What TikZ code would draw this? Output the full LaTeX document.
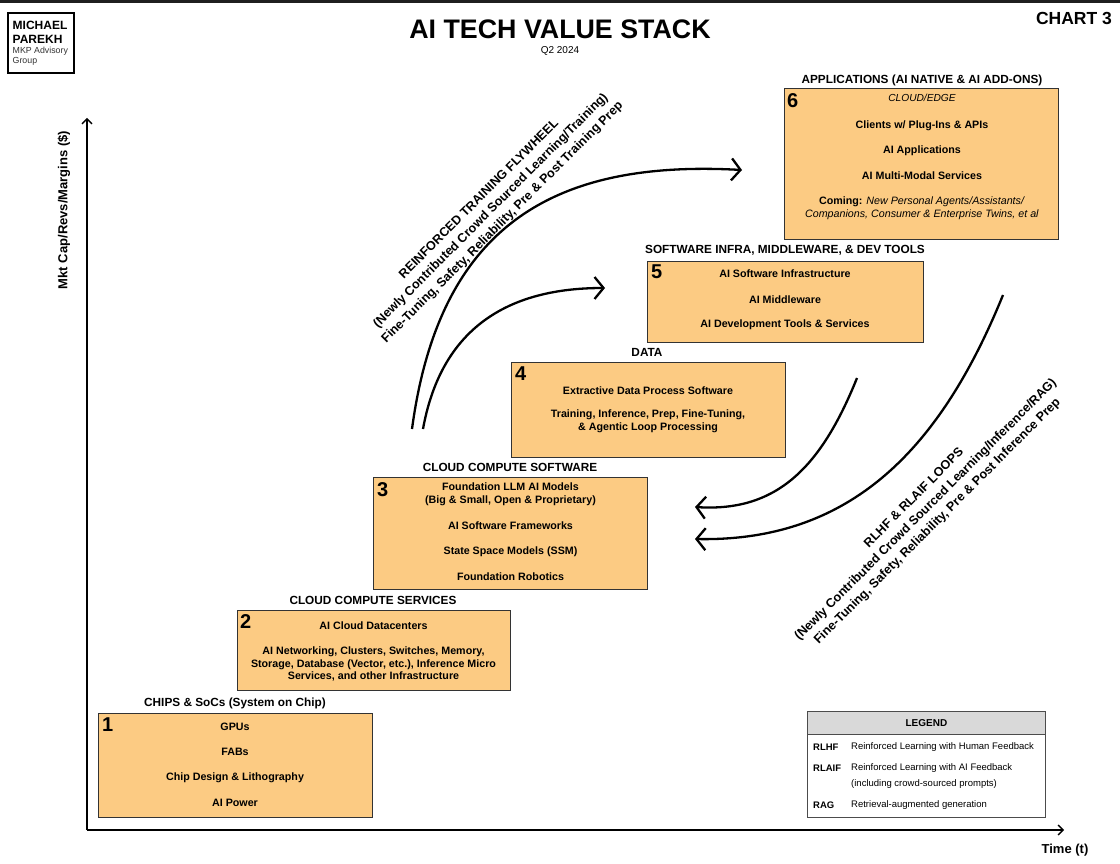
\documentclass[tikz,border=0pt]{standalone}
\usepackage{fontspec}
\setmainfont{Liberation Sans}
\usetikzlibrary{arrows.meta}
\definecolor{boxfill}{HTML}{FCCB83}
\definecolor{legendhead}{HTML}{D9D9D9}
\begin{document}
\begin{tikzpicture}[x=1pt,y=-1pt,
  stackbox/.style={draw=black!80, line width=1pt, fill=boxfill, inner sep=0pt, anchor=north west},
  boxtitle/.style={font=\fontsize{11.8}{13}\selectfont\bfseries, inner sep=0pt},
  item/.style={font=\fontsize{10.7}{12.8}\selectfont\bfseries, align=center, inner sep=0pt},
  num/.style={font=\fontsize{20}{20}\selectfont\bfseries, anchor=north west, inner sep=0pt},
  flow/.style={line width=2.3pt, -{Straight Barb[length=9pt,width=22pt,line width=2.3pt]}},
  axis/.style={line width=1.5pt, -{Straight Barb[length=5pt,width=10pt,line width=1.3pt]}},
  rotlabel/.style={font=\fontsize{12.6}{16.5}\selectfont\bfseries, align=center, rotate=45, inner sep=0pt},
  legtext/.style={font=\fontsize{9.5}{11}\selectfont, anchor=west, inner sep=0pt},
  legabbr/.style={font=\fontsize{9.5}{11}\selectfont\bfseries, anchor=west, inner sep=0pt}
]
\useasboundingbox (0,0) rectangle (1120,864);
\fill[white] (0,0) rectangle (1120,864);
\fill[black!88] (0,0) rectangle (1120,3);

% logo
\node[draw=black, line width=1.6pt, minimum width=66pt, minimum height=60pt, anchor=north west, inner sep=0pt] (logo) at (7,12) {};
\node[font=\fontsize{12}{12}\selectfont\bfseries, anchor=west, inner sep=0pt] (logo1) at (12.5,25.5) {MICHAEL};
\node[font=\fontsize{12}{12}\selectfont\bfseries, anchor=west, inner sep=0pt] (logo2) at (12.5,39) {PAREKH};
\node[font=\fontsize{8.8}{9}\selectfont, text=black!80, anchor=west, inner sep=0pt] (logo3) at (12.5,51.5) {MKP Advisory};
\node[font=\fontsize{8.8}{9}\selectfont, text=black!80, anchor=west, inner sep=0pt] (logo4) at (12.5,61) {Group};

% title
\node[font=\fontsize{26.8}{27}\selectfont\bfseries, inner sep=0pt] (title) at (560,29.5) {AI TECH VALUE STACK};
\node[font=\fontsize{10}{10}\selectfont, inner sep=0pt] (sub) at (560,51) {Q2 2024};
\node[font=\fontsize{17.5}{18}\selectfont\bfseries, inner sep=0pt] (chart) at (1074,18.5) {CHART 3};

% axes
\coordinate (origin) at (87,830);
\coordinate (ytip) at (87,118);
\coordinate (xtip) at (1064,830);
\draw[axis] (origin) -- (ytip);
\draw[axis] (origin) -- (xtip);
\node[font=\fontsize{13}{13}\selectfont\bfseries, rotate=90, inner sep=0pt] (ylab) at (64,210) {Mkt Cap/Revs/Margins (\$)};
\node[font=\fontsize{13}{13}\selectfont\bfseries, inner sep=0pt] (xlab) at (1065,850) {Time (t)};

% box 1
\node[stackbox, minimum width=274pt, minimum height=104pt] (b1) at (98,713) {};
\node[boxtitle] (t1) at (235,703) {CHIPS \& SoCs (System on Chip)};
\node[num] (n1) at (102,718) {1};
\node[item] (b1a) at (235,727) {GPUs};
\node[item] (b1b) at (235,752) {FABs};
\node[item] (b1c) at (235,777.5) {Chip Design \& Lithography};
\node[item] (b1d) at (235,802.5) {AI Power};

% box 2
\node[stackbox, minimum width=273pt, minimum height=80pt] (b2) at (237,610) {};
\node[boxtitle] (t2) at (373,600.5) {CLOUD COMPUTE SERVICES};
\node[num] (n2) at (240,614) {2};
\node[item] (b2a) at (373.5,625.5) {AI Cloud Datacenters};
\node[item] (b2b) at (373.5,664) {AI Networking, Clusters, Switches, Memory,\\Storage, Database (Vector, etc.), Inference Micro\\Services, and other Infrastructure};

% box 3
\node[stackbox, minimum width=274pt, minimum height=112pt] (b3) at (373,477) {};
\node[boxtitle] (t3) at (510,467) {CLOUD COMPUTE SOFTWARE};
\node[num] (n3) at (377,482) {3};
\node[item] (b3a) at (510.5,494.5) {Foundation LLM AI Models\\(Big \& Small, Open \& Proprietary)};
\node[item] (b3b) at (510.5,526) {AI Software Frameworks};
\node[item] (b3c) at (510.5,551.5) {State Space Models (SSM)};
\node[item] (b3d) at (510.5,577) {Foundation Robotics};

% box 4
\node[stackbox, minimum width=274pt, minimum height=95pt] (b4) at (511,362) {};
\node[boxtitle] (t4) at (647,352.5) {DATA};
\node[num] (n4) at (515,367) {4};
\node[item] (b4a) at (648,390.5) {Extractive Data Process Software};
\node[item] (b4b) at (648,421.5) {Training, Inference, Prep, Fine-Tuning,\\\& Agentic Loop Processing};

% box 5
\node[stackbox, minimum width=276pt, minimum height=81pt] (b5) at (647,261) {};
\node[boxtitle] (t5) at (785,250.5) {SOFTWARE INFRA, MIDDLEWARE, \& DEV TOOLS};
\node[num] (n5) at (651,265) {5};
\node[item] (b5a) at (785,274) {AI Software Infrastructure};
\node[item] (b5b) at (785,300) {AI Middleware};
\node[item] (b5c) at (785,325) {AI Development Tools \& Services};

% box 6
\node[stackbox, minimum width=274pt, minimum height=151pt] (b6) at (784,88) {};
\node[boxtitle] (t6) at (922,80) {APPLICATIONS (AI NATIVE \& AI ADD-ONS)};
\node[num] (n6) at (787,93) {6};
\node[font=\fontsize{10.2}{12}\selectfont\itshape, inner sep=0pt] (b6a) at (922,97.5) {CLOUD/EDGE};
\node[item] (b6b) at (922,126) {Clients w/ Plug-Ins \& APIs};
\node[item] (b6c) at (922,151) {AI Applications};
\node[item] (b6d) at (922,176) {AI Multi-Modal Services};
\node[font=\fontsize{10.7}{12.8}\selectfont, align=center, inner sep=0pt] (b6e) at (922,208) {\textbf{Coming:} \textit{New Personal Agents/Assistants/}\\\textit{Companions, Consumer \& Enterprise Twins, et al}};

% flywheel arrows
\coordinate (fwAs) at (412,429);
\coordinate (fwAe) at (742,170);
\coordinate (fwBs) at (423,429);
\coordinate (fwBe) at (605,288);
\draw[flow] (fwAs) .. controls (440,220) and (560,160) .. (fwAe);
\draw[flow] (fwBs) .. controls (440,335) and (500,288) .. (fwBe);
\node[rotlabel] (fwlab) at (491,211) {REINFORCED TRAINING FLYWHEEL\\(Newly Contributed Crowd Sourced Learning/Training)\\Fine-Tuning, Safety, Reliability, Pre \& Post Training Prep};

% loops arrows
\coordinate (lpAs) at (857,378);
\coordinate (lpAe) at (695,507);
\coordinate (lpBs) at (1003,295);
\coordinate (lpBe) at (695,539);
\draw[flow] (lpAs) .. controls (820,470) and (775,512) .. (lpAe);
\draw[flow] (lpBs) .. controls (940,450) and (850,542) .. (lpBe);
\node[rotlabel] (lplab) at (926,510) {RLHF \& RLAIF LOOPS\\(Newly Contributed Crowd Sourced Learning/Inference/RAG)\\Fine-Tuning, Safety, Reliability, Pre \& Post Inference Prep};

% legend
\node[draw=black!70, line width=0.8pt, minimum width=238pt, minimum height=106pt, anchor=north west, inner sep=0pt] (leg) at (807,711) {};
\node[draw=black!70, line width=0.8pt, fill=legendhead, minimum width=238pt, minimum height=23pt, anchor=north west, inner sep=0pt] (leghead) at (807,711) {};
\node[font=\fontsize{10}{11}\selectfont\bfseries, inner sep=0pt] (legtitle) at (leghead.center) {LEGEND};
\node[legabbr] (l1a) at (813,747) {RLHF};
\node[legtext] (l1b) at (851,747) {Reinforced Learning with Human Feedback};
\node[legabbr] (l2a) at (813,768) {RLAIF};
\node[legtext] (l2b) at (851,768) {Reinforced Learning with AI Feedback};
\node[legtext] (l2c) at (851,784) {(including crowd-sourced prompts)};
\node[legabbr] (l3a) at (813,805) {RAG};
\node[legtext] (l3b) at (851,805) {Retrieval-augmented generation};
\end{tikzpicture}
\end{document}
